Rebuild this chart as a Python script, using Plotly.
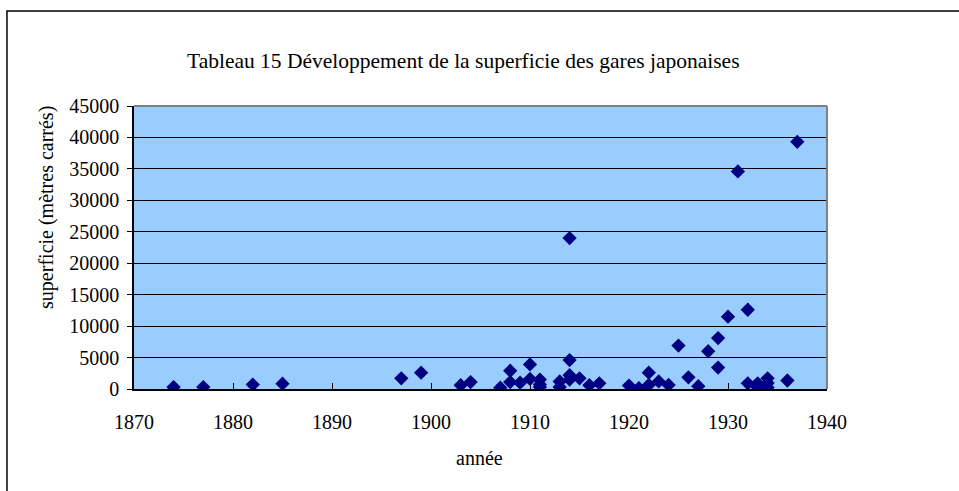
import plotly.graph_objects as go

# Station floor area by year of construction
annees = [1874, 1877, 1882, 1885, 1897, 1899, 1903, 1904, 1907, 1908,
          1908, 1909, 1910, 1910, 1911, 1911, 1911, 1913, 1913, 1914,
          1914, 1914, 1914, 1915, 1916, 1917, 1920, 1921, 1922, 1922,
          1923, 1924, 1925, 1926, 1927, 1928, 1929, 1929, 1930, 1931,
          1932, 1932, 1933, 1933, 1934, 1934, 1934, 1936, 1937]
superficies = [300, 300, 700, 850, 1700, 2600, 600, 1100, 200, 2900,
               1100, 1000, 3900, 1600, 1500, 700, 300, 1200, 300, 24000,
               4600, 2200, 1500, 1700, 600, 900, 550, 150, 2600, 650,
               1200, 650, 6900, 1850, 450, 6000, 8100, 3400, 11500, 34600,
               12600, 900, 900, 250, 1700, 950, 250, 1350, 39300]

x_ticks = [1870, 1880, 1890, 1900, 1910, 1920, 1930, 1940]
y_ticks = [0, 5000, 10000, 15000, 20000, 25000, 30000, 35000, 40000, 45000]
y_labels = [str(v) for v in y_ticks]
x_labels = [str(v) for v in x_ticks]

FONT = "Liberation Serif"

fig = go.Figure(go.Scatter(
    x=annees, y=superficies, mode="markers",
    marker=dict(symbol="diamond", size=11, color="#000080",
                line=dict(width=0)),
    showlegend=False,
))

fig.update_layout(
    width=959, height=491,
    margin=dict(l=134, r=132, t=106, b=102),
    paper_bgcolor="white", plot_bgcolor="#99CCFF",
    font=dict(family=FONT, size=20, color="black"),
    xaxis=dict(range=[1870, 1940], tickvals=x_ticks, ticktext=x_labels,
               ticks="inside", ticklen=6, tickcolor="black", showgrid=False,
               showline=True, linecolor="black", linewidth=2,
               zeroline=False, ticklabelstandoff=14, fixedrange=True,
               tickfont=dict(family=FONT, size=20)),
    yaxis=dict(range=[0, 45000], tickvals=y_ticks, ticktext=y_labels,
               ticks="outside", ticklen=5, tickcolor="black", showgrid=True,
               gridcolor="black", gridwidth=1,
               showline=True, linecolor="black", linewidth=1.5,
               zeroline=False, ticklabelstandoff=4, fixedrange=True,
               tickfont=dict(family=FONT, size=20)),
    shapes=[
        # gray frame of the plot area (top and right)
        dict(type="line", xref="paper", yref="paper", x0=0, x1=1, y0=1, y1=1,
             line=dict(color="#808080", width=2)),
        dict(type="line", xref="paper", yref="paper", x0=1, x1=1, y0=0, y1=1,
             line=dict(color="#808080", width=2)),
        # outer chart border
        dict(type="rect", xref="paper", yref="paper",
             x0=-0.1833, x1=1.2, y0=-0.40, y1=1.3357,
             line=dict(color="black", width=1.5), layer="below"),
    ],
    annotations=[
        dict(text="Tableau 15 Développement de la superficie des gares japonaises",
             xref="paper", yref="paper", x=0.476, y=1.159,
             xanchor="center", yanchor="middle", showarrow=False,
             font=dict(family=FONT, size=21.5)),
        dict(text="superficie (mètres carrés)", textangle=-90,
             xref="paper", yref="paper", x=-0.1255, y=0.64,
             xanchor="center", yanchor="middle", showarrow=False,
             font=dict(family=FONT, size=20)),
        dict(text="année", xref="paper", yref="paper", x=0.499, y=-0.244,
             xanchor="center", yanchor="middle", showarrow=False,
             font=dict(family=FONT, size=20)),
    ],
)

fig.write_html("out.html")
